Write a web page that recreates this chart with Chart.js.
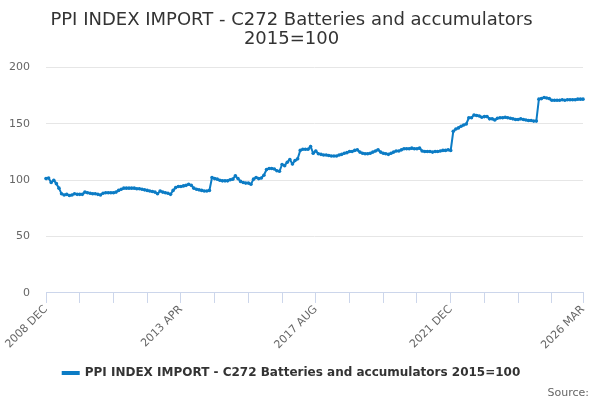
<!DOCTYPE html>
<html>
<head>
<meta charset="utf-8">
<script src="https://cdn.jsdelivr.net/npm/chart.js@4/dist/chart.umd.min.js"></script>
<style>
  body { margin: 0; background: #fff; }
  #wrap { position: relative; width: 600px; height: 400px; }
  #source { position: absolute; right: 11px; bottom: 1px; font: 11px "DejaVu Sans", sans-serif; color: #666; }
</style>
</head>
<body>
<div id="wrap">
  <canvas id="ppiChart" width="600" height="400"></canvas>
  <div id="source">Source:</div>
</div>
<script>
// Serie mensual, desde 2008 DEC hasta 2026 MAR
const startYear = 2008;
const startMonth = 11; // DEC
const monthNames = ["JAN", "FEB", "MAR", "APR", "MAY", "JUN", "JUL", "AUG", "SEP", "OCT", "NOV", "DEC"];

const seriesName = "PPI INDEX IMPORT - C272 Batteries and accumulators 2015=100";

const indexValues = [
  101.5, 102, 98, 100, 97, 93, 88, 87, 87.5, 86.5, 87, 88, 87.5, 87.5, 87.5, 89.5,
  89, 88.5, 88, 88, 87.5, 87, 88.5, 89, 89, 89, 89, 89.5, 91, 92, 93, 93,
  93, 93, 93, 92.5, 92.5, 92, 91.5, 91, 90.5, 90, 89.5, 88, 90.5, 89.5, 89, 88.5,
  87.5, 91, 93.5, 94.5, 94.5, 95, 95.5, 96.5, 95.5, 93, 92, 91.5, 91, 90.5, 90.5, 91,
  102.5, 101.5, 101, 100, 99.5, 99.5, 99.5, 100.5, 101, 104, 101.5, 99, 98, 97.5, 97.5, 96.5,
  101, 102.5, 101.5, 102, 104.5, 109.5, 110.5, 110.5, 110, 108.5, 108, 114, 113, 116, 118.5, 114.5,
  117.5, 119, 126.5, 127.5, 127.5, 127.5, 130, 124, 126, 123.5, 123, 122.5, 122.5, 122, 121.5, 121.5,
  121.5, 122.5, 123, 124, 124.5, 125.5, 125.5, 126.5, 127, 125, 124, 123.5, 123.5, 124, 125, 126,
  127, 125, 124, 123.5, 123, 124, 125, 126, 126, 127, 128, 128, 128, 128.5, 128, 128,
  128.5, 126, 125.5, 125.5, 125.5, 125, 125.5, 125.5, 126, 126.5, 126.5, 127, 126.5, 143.5, 145.5, 146.5,
  148, 149, 150, 155.5, 155.5, 158, 157.5, 157, 156, 156.5, 156.5, 154.5, 154.5, 153.5, 155, 155.5,
  155.5, 156, 155.5, 155, 154.5, 154, 154, 154.5, 154, 153.5, 153, 153, 152.5, 152.5, 172, 172.5,
  173.5, 173, 172.5, 171, 171, 171, 171, 171.5, 171, 171.5, 171.5, 171.5, 171.5, 172, 172, 172
];

const shownTickLabels = ["2008 DEC", "2013 APR", "2017 AUG", "2021 DEC", "2026 MAR"];
const tickMarkEvery = 13;

// Etiquetas de categoria (un mes por punto)
const monthLabels = indexValues.map((v, i) => {
  const m = startMonth + i;
  return (startYear + Math.floor(m / 12)) + " " + monthNames[m % 12];
});

const lineColor = "#0c7cc5";
const fontFamily = "'DejaVu Sans', sans-serif";

const ctx = document.getElementById("ppiChart").getContext("2d");
const ppiChart = new Chart(ctx, {
  type: "line",
  data: {
    labels: monthLabels,
    datasets: [
      {
        label: seriesName,
        data: indexValues,
        borderColor: lineColor,
        backgroundColor: lineColor,
        borderWidth: 2,
        pointRadius: 1.8,
        pointBorderWidth: 0,
        pointHoverRadius: 3,
        fill: false,
        tension: 0,
      },
    ],
  },
  options: {
    responsive: false,
    animation: false,
    layout: { padding: { left: 0, right: 17, top: 4, bottom: 11 } },
    plugins: {
      title: {
        display: true,
        text: ["PPI INDEX IMPORT - C272 Batteries and accumulators", "2015=100"],
        color: "#333333",
        font: { family: fontFamily, size: 18, weight: "normal", lineHeight: 1.1 },
        padding: { top: 6, bottom: 18 },
      },
      legend: {
        position: "bottom",
        labels: {
          color: "#333333",
          font: { family: fontFamily, size: 12, weight: "bold" },
          boxWidth: 16,
          boxHeight: 2,
          padding: 10,
        },
      },
      tooltip: { enabled: false },
    },
    scales: {
      x: {
        type: "category",
        offset: false,
        border: { display: true, color: "#ccd6eb" },
        grid: {
          drawOnChartArea: false,
          drawTicks: true,
          tickLength: 10,
          color: (c) => (c.index % tickMarkEvery === 0 || c.index === monthLabels.length - 1) ? "#ccd6eb" : "rgba(0,0,0,0)",
        },
        ticks: {
          autoSkip: false,
          minRotation: 45,
          maxRotation: 45,
          padding: 0,
          color: "#666666",
          font: { family: fontFamily, size: 11 },
          callback: function (val, idx) {
            const lbl = monthLabels[idx];
            return shownTickLabels.includes(lbl) ? lbl : "";
          },
        },
        afterFit: (scale) => {
          scale.paddingLeft = 40;
          scale.height += 5; // espacio extra antes de la leyenda
        },
      },
      y: {
        min: 0,
        max: 200,
        border: { display: false },
        grid: { color: "#e6e6e6", drawTicks: false },
        ticks: {
          stepSize: 50,
          padding: 16,
          color: "#666666",
          font: { family: fontFamily, size: 11 },
        },
        afterFit: (scale) => {
          // deja el borde izquierdo del area del grafico en x=46
          scale.width = 46;
        },
      },
    },
  },
});
</script>
</body>
</html>
